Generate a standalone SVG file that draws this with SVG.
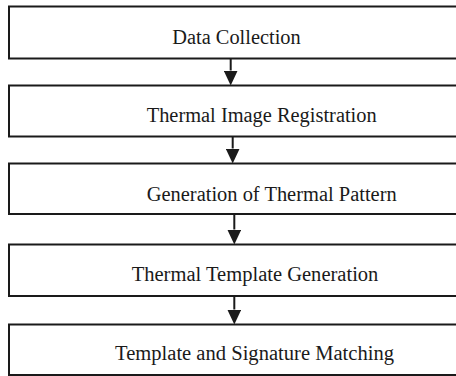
<svg xmlns="http://www.w3.org/2000/svg" width="456" height="376" viewBox="0 0 456 376">
  <style>
    .box { fill: #ffffff; stroke: #1a1a1a; stroke-width: 2; }
    .lbl { font-family: "Liberation Serif", "Times New Roman", serif; font-size: 20px; fill: #1a1a1a; }
    .conn { stroke: #1a1a1a; stroke-width: 2; fill: none; }
  </style>
  <defs>
    <marker id="arrow" viewBox="0 0 15 14" refX="0" refY="7" markerWidth="15" markerHeight="14" markerUnits="userSpaceOnUse" orient="auto">
      <path d="M0,0 L15,7 L0,14 z" fill="#1a1a1a"/>
    </marker>
  </defs>
  <rect width="456" height="376" fill="#ffffff"/>
  <g id="n1">
    <rect class="box" x="9" y="6.5" width="470" height="52"/>
    <text class="lbl" x="172.3" y="44" textLength="128.4" lengthAdjust="spacingAndGlyphs">Data Collection</text>
  </g>
  <g id="n2">
    <rect class="box" x="9" y="85.5" width="470" height="51"/>
    <text class="lbl" x="146.7" y="121.5" textLength="230" lengthAdjust="spacingAndGlyphs">Thermal Image Registration</text>
  </g>
  <g id="n3">
    <rect class="box" x="9" y="163.5" width="470" height="50.5"/>
    <text class="lbl" x="146.7" y="200.5" textLength="250" lengthAdjust="spacingAndGlyphs">Generation of Thermal Pattern</text>
  </g>
  <g id="n4">
    <rect class="box" x="9" y="244.5" width="470" height="51.5"/>
    <text class="lbl" x="131.7" y="281" textLength="246.7" lengthAdjust="spacingAndGlyphs">Thermal Template Generation</text>
  </g>
  <g id="n5">
    <rect class="box" x="9" y="324.5" width="470" height="50.5"/>
    <text class="lbl" x="115" y="360" textLength="279" lengthAdjust="spacingAndGlyphs">Template and Signature Matching</text>
  </g>
  <g id="connectors">
    <line class="conn" x1="230.7" y1="58.5" x2="230.7" y2="70.5" marker-end="url(#arrow)"/>
    <line class="conn" x1="232.7" y1="136.5" x2="232.7" y2="148.5" marker-end="url(#arrow)"/>
    <line class="conn" x1="234.3" y1="214" x2="234.3" y2="229.5" marker-end="url(#arrow)"/>
    <line class="conn" x1="234.3" y1="296" x2="234.3" y2="309.5" marker-end="url(#arrow)"/>
  </g>
</svg>
